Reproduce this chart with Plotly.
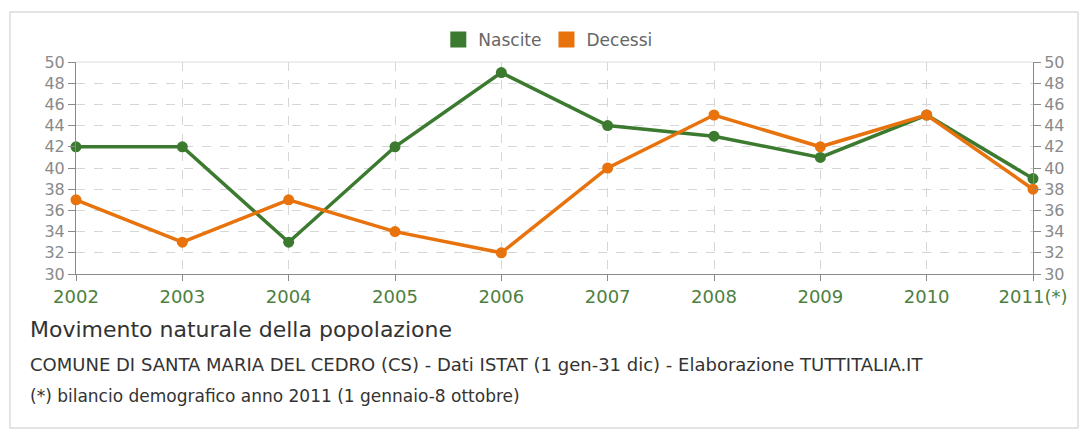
import plotly.graph_objects as go

years = ["2002", "2003", "2004", "2005", "2006", "2007", "2008", "2009", "2010", "2011(*)"]
nascite = [42, 42, 33, 42, 49, 44, 43, 41, 45, 39]
decessi = [37, 33, 37, 34, 32, 40, 45, 42, 45, 38]
y_ticks = list(range(30, 51, 2))

GREEN = "#3b7a2f"
ORANGE = "#e8720c"
FONT = "DejaVu Sans, Verdana, sans-serif"

fig = go.Figure()
fig.add_trace(go.Scatter(x=years, y=nascite, mode="lines+markers", name="Nascite",
                         line=dict(color=GREEN, width=3.5), marker=dict(size=11, color=GREEN),
                         showlegend=False, cliponaxis=False))
fig.add_trace(go.Scatter(x=years, y=decessi, mode="lines+markers", name="Decessi",
                         line=dict(color=ORANGE, width=3.5), marker=dict(size=11, color=ORANGE),
                         showlegend=False, cliponaxis=False))
# legend entries with square swatches
fig.add_trace(go.Scatter(x=[None], y=[None], mode="markers", name="Nascite",
                         marker=dict(symbol="square", size=18, color=GREEN)))
fig.add_trace(go.Scatter(x=[None], y=[None], mode="markers", name="Decessi",
                         marker=dict(symbol="square", size=18, color=ORANGE)))
# invisible trace to show right axis
fig.add_trace(go.Scatter(x=years, y=decessi, yaxis="y2", mode="lines", opacity=0,
                         showlegend=False, hoverinfo="skip"))

axis_common = dict(range=[30, 50], tickvals=y_ticks, ticks="outside", ticklen=7,
                   tickcolor="#8a8a8a", linecolor="#8a8a8a", showline=True,
                   tickfont=dict(family=FONT, size=16, color="#8a8a8a"), zeroline=False)

fig.update_layout(
    width=1081, height=431,
    margin=dict(l=68, r=56, t=54, b=165),
    paper_bgcolor="white", plot_bgcolor="white",
    font=dict(family=FONT),
    xaxis=dict(type="category", range=[0, 9], showgrid=True, gridcolor="#d6d6d6", griddash="dash",
               showline=True, linecolor="#8a8a8a", ticks="outside", ticklen=6, tickcolor="#8a8a8a",
               tickfont=dict(family=FONT, size=18, color="#4d8040")),
    yaxis=dict(**axis_common, showgrid=True, gridcolor="#d6d6d6", griddash="dash", side="left"),
    yaxis2=dict(**axis_common, overlaying="y", side="right", showgrid=False),
    legend=dict(orientation="h", x=0.493, xanchor="center", y=1.104, yanchor="middle",
                font=dict(family=FONT, size=17, color="#666"), itemwidth=30,
                bgcolor="rgba(0,0,0,0)"),
)

fig.add_shape(type="rect", xref="paper", yref="paper", x0=-0.069, x1=1.047, y0=-0.726, y1=1.236,
              line=dict(color="#dcdcdc", width=1.5), fillcolor="rgba(0,0,0,0)", layer="below")
fig.add_shape(type="line", xref="paper", yref="paper", x0=0, x1=1, y0=1, y1=1,
              line=dict(color="#dddddd", width=1), layer="below")

fig.add_annotation(text="Movimento naturale della popolazione", xref="paper", yref="paper",
                   x=-0.05, y=-0.264, xanchor="left", yanchor="middle", showarrow=False,
                   font=dict(family=FONT, size=22, color="#333"))
fig.add_annotation(text="COMUNE DI SANTA MARIA DEL CEDRO (CS) - Dati ISTAT (1 gen-31 dic) - Elaborazione TUTTITALIA.IT",
                   xref="paper", yref="paper", x=-0.05, y=-0.429, xanchor="left", yanchor="middle",
                   showarrow=False, font=dict(family=FONT, size=18, color="#333"))
fig.add_annotation(text="(*) bilancio demografico anno 2011 (1 gennaio-8 ottobre)",
                   xref="paper", yref="paper", x=-0.05, y=-0.575, xanchor="left", yanchor="middle",
                   showarrow=False, font=dict(family=FONT, size=17, color="#333"))

fig.write_html("out.html")
